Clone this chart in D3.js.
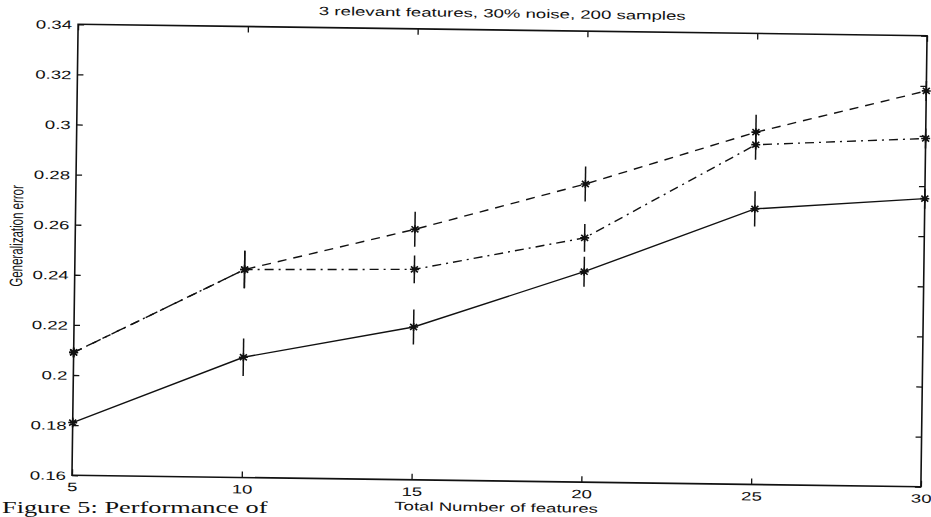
<!DOCTYPE html>
<html>
<head>
<meta charset="utf-8">
<script src="https://cdn.jsdelivr.net/npm/d3@7"></script>
<style>
  body { margin: 0; background: #fff; }
  text { font-family: "Liberation Sans", Arial, sans-serif; fill: #111; }
</style>
</head>
<body>
<svg id="chart" width="931" height="517"></svg>
<script>
// values
const features = [5, 10, 15, 20, 25, 30];
const errDashed  = [0.209, 0.243, 0.260, 0.279, 0.3006, 0.318];
const errDashDot = [0.209, 0.243, 0.244, 0.2575, 0.2956, 0.299];
const errSolid   = [0.181, 0.208, 0.221, 0.244, 0.270, 0.275];
const barDashed  = [0.002, 0.0075, 0.007, 0.007, 0.007, 0.004];
const barDashDot = [0.002, 0.0075, 0.0055, 0.0055, 0.006, 0.004];
const barSolid   = [0.002, 0.0075, 0.007, 0.006, 0.007, 0.004];
const xTicks = [5, 10, 15, 20, 25, 30];
const yTicks = [0.16, 0.18, 0.2, 0.22, 0.24, 0.26, 0.28, 0.3, 0.32, 0.34];

const titleText = "3 relevant features, 30% noise, 200 samples";
const xLabel = "Total Number of features";
const yLabel = "Generalization error";
const captionText = "Figure 5: Performance of";

// the scan is stretched sideways and a bit tilted
const stretch = 1.55;
const tilt = 0.78;

const svg = d3.select("#chart");
const L = 75, R = 924, T = 30, B = 481;

const x = d3.scaleLinear().domain([5, 30]).range([L, R]);
const y = d3.scaleLinear().domain([0.16, 0.34]).range([B, T]);

const g = svg.append("g").attr("transform", `rotate(${tilt}, 500, 256)`);

// frame
g.append("rect")
    .attr("x", L).attr("y", T)
    .attr("width", R - L).attr("height", B - T)
    .attr("fill", "none")
    .attr("stroke", "#111")
    .attr("stroke-width", 1.6);

function wide(sel, size, weight) {
    sel.each(function () {
        const t = d3.select(this);
        const tx = +t.attr("x") || 0;
        t.attr("x", 0)
         .attr("transform", `translate(${tx},0) scale(${stretch},1)`)
         .style("font-size", size + "px")
         .style("font-weight", weight);
    });
}

// left axis labels + inward ticks
const yAxisL = g.append("g")
    .attr("transform", `translate(${L},0)`)
    .call(d3.axisLeft(y).tickValues(yTicks).tickFormat(d => d3.format("")(+d.toFixed(2)))
        .tickSizeInner(-6).tickSizeOuter(0).tickPadding(6));
yAxisL.select(".domain").remove();
yAxisL.selectAll("line").attr("stroke", "#111").attr("stroke-width", 1.3);
yAxisL.selectAll("text").attr("dy", "0.36em").call(wide, 12, "normal");

// right axis ticks
const yAxisR = g.append("g")
    .attr("transform", `translate(${R},0)`)
    .call(d3.axisRight(y).tickValues(yTicks).tickFormat("").tickSizeInner(-6).tickSizeOuter(0));
yAxisR.select(".domain").remove();
yAxisR.selectAll("line").attr("stroke", "#111").attr("stroke-width", 1.3);

// bottom axis
const xAxisB = g.append("g")
    .attr("transform", `translate(0,${B})`)
    .call(d3.axisBottom(x).tickValues(xTicks).tickSizeInner(-6).tickSizeOuter(0).tickPadding(16));
xAxisB.select(".domain").remove();
xAxisB.selectAll("line").attr("stroke", "#111").attr("stroke-width", 1.3);
xAxisB.selectAll("text").attr("dy", 0).call(wide, 12, "normal");

// top axis ticks
const xAxisT = g.append("g")
    .attr("transform", `translate(0,${T})`)
    .call(d3.axisTop(x).tickValues(xTicks).tickFormat("").tickSizeInner(-6).tickSizeOuter(0));
xAxisT.select(".domain").remove();
xAxisT.selectAll("line").attr("stroke", "#111").attr("stroke-width", 1.3);

// title and axis titles
g.append("text")
    .attr("text-anchor", "middle")
    .attr("transform", `translate(499,17.5) scale(${stretch},1)`)
    .style("font-size", "12px")
    .text(titleText);

g.append("text")
    .attr("text-anchor", "middle")
    .attr("transform", `translate(499.5,511.5) scale(${stretch},1)`)
    .style("font-size", "12px")
    .text(xLabel);

g.append("text")
    .attr("text-anchor", "middle")
    .attr("transform", `translate(22.5,242.5) scale(${stretch},1) rotate(-90)`)
    .style("font-size", "11.5px")
    .text(yLabel);

// series
const series = [
    { vals: errSolid, bars: barSolid, dash: null },
    { vals: errDashDot, bars: barDashDot, dash: "9,5,2,5" },
    { vals: errDashed, bars: barDashed, dash: "9,7" }
];

const line = d3.line().x(d => x(d[0])).y(d => y(d[1]));
const star = "M0,-4L0,4M-4.5,0L4.5,0M-3.5,-3L3.5,3M-3.5,3L3.5,-3";

series.forEach(s => {
    const pts = features.map((f, i) => [f, s.vals[i], s.bars[i]]);

    g.append("path")
        .datum(pts)
        .attr("d", line)
        .attr("fill", "none")
        .attr("stroke", "#111")
        .attr("stroke-width", 1.4)
        .attr("stroke-dasharray", s.dash);

    g.selectAll(null)
        .data(pts)
        .join("line")
        .attr("x1", d => x(d[0])).attr("x2", d => x(d[0]))
        .attr("y1", d => y(d[1] - d[2])).attr("y2", d => y(d[1] + d[2]))
        .attr("stroke", "#111")
        .attr("stroke-width", 1.5);

    g.selectAll(null)
        .data(pts)
        .join("path")
        .attr("d", star)
        .attr("transform", d => `translate(${x(d[0])},${y(d[1])})`)
        .attr("fill", "none")
        .attr("stroke", "#111")
        .attr("stroke-width", 1.6);
});

// caption along the bottom edge (kept on the canvas)
svg.append("text")
    .attr("transform", `translate(2,513) scale(${stretch},1)`)
    .style("font-family", "'Liberation Serif', serif")
    .style("font-size", "17px")
    .text(captionText);
</script>
</body>
</html>
